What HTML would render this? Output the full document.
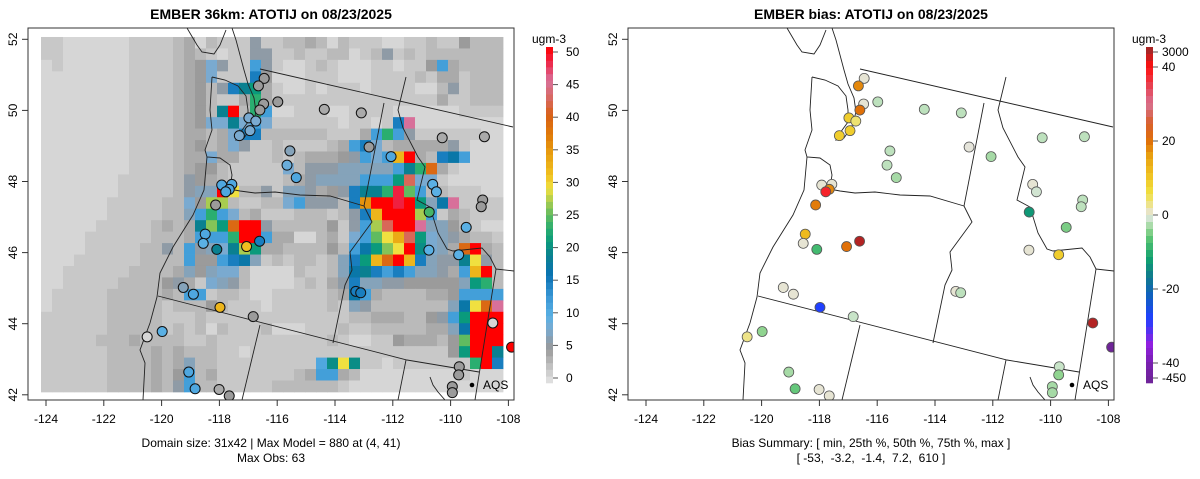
<!DOCTYPE html>
<html><head><meta charset="utf-8"><title>EMBER ATOTIJ</title>
<style>
html,body{margin:0;padding:0;background:#fff;}
svg{display:block;font-family:"Liberation Sans",Arial,sans-serif;}
</style></head>
<body>
<svg id="chart" width="1200" height="479" viewBox="0 0 1200 479" xmlns="http://www.w3.org/2000/svg">
<defs>
<clipPath id="clipL"><rect x="28" y="28" width="486" height="372"/></clipPath>
<clipPath id="clipR"><rect x="628" y="28" width="486" height="372"/></clipPath>
</defs>
<text x="271" y="19" text-anchor="middle" font-size="14" font-weight="bold">EMBER 36km: ATOTIJ on 08/23/2025</text>
<text x="871" y="19" text-anchor="middle" font-size="14" font-weight="bold">EMBER bias: ATOTIJ on 08/23/2025</text>
<g id="left"></g>
<g id="right"></g>
<text x="271" y="447" text-anchor="middle" font-size="12">Domain size: 31x42 | Max Model = 880 at (4, 41)</text>
<text x="271" y="462" text-anchor="middle" font-size="12">Max Obs: 63</text>
<text x="871" y="447" text-anchor="middle" font-size="12">Bias Summary: [ min, 25th %, 50th %, 75th %, max ]</text>
<text x="871" y="462" text-anchor="middle" font-size="12" xml:space="preserve">[ -53,  -3.2,  -1.4,  7.2,  610 ]</text>
</svg>
<script>
const NS = "http://www.w3.org/2000/svg";
// ---- data ----
const xTicks = [-124,-122,-120,-118,-116,-114,-112,-110,-108];
const yTicks = [42,44,46,48,50,52];
const obsTicks = [0,5,10,15,20,25,30,35,40,45,50];
const biasTicks = [3000,40,20,0,-20,-40,-450];
const gridLon0 = -124.173;
const gridLat0 = 52.065;
const gridAlphabet = "0123456789abcdefghijklmnopqrstuvwxyzABCDEFGHIJKLMNO";
const gridRows = [
"221111112222341322262233431322211223225333",
"221111112222343212266223223312362323333333",
"1211111122223458622c6211232111221225c43333",
"1111111122223458222f5111222111222232442333",
"11111111222234536fjl4211212221222211362333",
"1111111122223453224n4222222222222222422333",
"1111111122223453jO3nc112221122221111112222",
"11111111222234588j8c822222212212fJ11111111",
"111111112222344348ff3333332224cnc622222211",
"1111111122223453486223222234cf834444462111",
"1111111122223448442223234445 6c8cwO43fhc111".replace(" ",""),
"11111111222234553222228366677777cjnD421111",
"11111112222236543222223467777ccclG88211111",
"1111111222223677Ot3362776456fjjnMpc3322211",
"111111222223385rr322338c6663fzOOMOl7hJ2222",
"11111122222337cnc834222333236fwOOOrc243222",
"11111222223434jqlDOO633333526crGOOJ7753211",
"11112222223334cccnOOc44113428cptxGl8764332",
"1111222223363c678jrl44333353chlqtOk874DO43",
"1112222223333c55cfh723233237flwDOwf766jt63",
"1122222233334757883111132237hjfcfc7764cwO3",
"1122222333356428763111123246f7766555557ln3",
"1222223333343cc2332112222234hc43333445cccc",
"12222233333233353222122222327633333337htDJ",
"2222223333322232222222222222334443356clOOO",
"22222233333232313222311122232233333447hOOO",
"22222333433332232222222222321122544435pOOO",
"22222233334343332212222222222222222225lOOj",
"2222223333434733222222222bktk2212222222nOf",
"2222223333435c34222222234cc431111111112111",
"2222223333436c3322222333333211111111111111"
];
// sites (axis coords), observed values and bias
const siteLon = [-116.45,-116.65,-116.47,-116.60,-115.98,-116.98,-116.74,-116.94,-117.31,-114.37,-113.09,-112.82,-115.56,-115.66,-115.34,-112.06,-110.29,-108.83,-110.62,-110.49,-110.74,-108.89,-108.94,-109.46,-109.72,-110.75,-117.92,-117.57,-117.66,-117.78,-118.13,-118.49,-118.56,-118.09,-117.06,-116.61,-119.25,-118.90,-117.98,-116.83,-113.28,-113.11,-120.50,-119.98,-108.54,-107.89,-119.06,-118.84,-118.01,-117.66,-109.70,-109.72,-109.94,-109.94];
const siteLat = [50.90,50.69,50.18,50.01,50.24,49.79,49.70,49.43,49.29,50.03,49.93,48.97,48.86,48.46,48.11,48.70,49.23,49.26,47.92,47.71,47.14,47.48,47.29,46.71,45.94,46.07,47.90,47.92,47.78,47.71,47.34,46.52,46.26,46.09,46.17,46.32,45.02,44.83,44.46,44.20,44.91,44.87,43.63,43.78,44.02,43.34,42.64,42.17,42.15,41.97,42.79,42.56,42.23,42.06];
const siteObs = [5,5,5,5,5,8,8,8,8,4,4,5,7,9,11,11,4,4,10,10,24,5,5,10,10,10,11,11,11,11,5,11,10,19,31,15,7,11,32,5,15,15,1,10,1,50,11,11,4,5,5,5,5,5];
const siteBias = [0.5,18,0.5,20,-2,9,4,9,9,-2,-2,0.3,-2,-2,-3,-3,-2,-2,0.5,-1,-13,-2,-2,-5,9,0.5,0.5,0.5,18,38,19,12,0.5,-8,20,44,0.5,0.5,-28,-1.5,0.5,-2,3,-4,44,-45,-3,-6,0.5,0.5,-1.5,-4,-3,-3];
// ---- scales ----
function xS(lon){ return 46 + (lon + 124) * 28.9; }
function yS(lat){ return 39.3 + (52 - lat) * 35.55; }
const obsStops = [[0,"#e6e6e6"],[1,"#d6d6d6"],[2,"#c8c8c8"],[3,"#bababa"],[4,"#aaaaaa"],[5,"#9b9b9b"],[6,"#8f9ba6"],[7,"#85a3ba"],[8,"#7aaad0"],[10,"#5ab0e4"],[13,"#3896d4"],[16,"#0a72b4"],[19,"#0a8090"],[21,"#0a9a7c"],[23,"#2aae70"],[25,"#60bb60"],[27,"#a8cc50"],[29,"#f0e040"],[31,"#f0c020"],[34,"#e8a010"],[37,"#e07a08"],[40,"#d86018"],[42,"#d86858"],[45,"#d8709a"],[48,"#f02040"],[50,"#ff0000"]];
const biasStops = [[-50,"#62287e"],[-40,"#7a20b0"],[-35,"#9020e0"],[-28,"#2040ff"],[-22,"#1060c0"],[-17,"#107890"],[-12,"#10a070"],[-7,"#50c070"],[-4,"#90d490"],[-1.5,"#c8e4c8"],[0,"#e4e4e4"],[2,"#ece4a0"],[6,"#f0e040"],[11,"#f0c020"],[16,"#e8a010"],[20,"#e07008"],[25,"#d86030"],[30,"#d87090"],[35,"#e84050"],[40,"#ff1010"],[45,"#a02828"]];
function hex(c){return [parseInt(c.substr(1,2),16),parseInt(c.substr(3,2),16),parseInt(c.substr(5,2),16)];}
function interp(stops,v){
  if(v<=stops[0][0]) return stops[0][1];
  if(v>=stops[stops.length-1][0]) return stops[stops.length-1][1];
  for(let i=0;i<stops.length-1;i++){
    const a=stops[i],b=stops[i+1];
    if(v>=a[0]&&v<=b[0]){
      const t=(v-a[0])/(b[0]-a[0]);const A=hex(a[1]),B=hex(b[1]);
      return "rgb("+A.map((x,k)=>Math.round(x+(B[k]-x)*t)).join(",")+")";
    }
  }
}
function obsColor(v){return interp(obsStops,v);}
function biasColor(v){return interp(biasStops,v);}
function mk(tag,attrs,parent){const e=document.createElementNS(NS,tag);for(const k in attrs)e.setAttribute(k,attrs[k]);parent.appendChild(e);return e;}
// ---- geography (pixel polylines, left panel frame) ----
const borderLines = [
 [[260,69],[513,127]],
 [[384,103],[364,206],[372,222],[350,252],[352,270],[345,285],[333,343]],
 [[219,187],[240,191],[255,193],[275,192],[300,195],[330,196],[364,206]],
 [[158,296],[407,360],[479,372]],
 [[475,400],[496,269],[514,271]],
 [[406,77],[398,110],[403,128],[418,157],[425,167],[417,200],[430,207],[438,233],[447,249],[453,251],[482,248],[490,257],[496,269]],
 [[260,325],[242,400]],
 [[406,360],[398,400]]
];
const coastLines = [
 [[212,77],[210,110],[212,130],[205,150],[207,157],[220,158],[230,165],[232,175],[230,188]],
 [[207,157],[204,190],[193,215],[173,247],[160,273],[157,297],[150,323],[140,350],[145,363],[143,400]],
 [[187,28],[197,45],[202,52],[214,54],[220,45],[226,30]],
 [[212,77],[225,80],[238,86],[246,96],[248,110],[248,122],[240,133],[236,140],[244,138],[252,126],[256,112],[254,98],[248,84],[244,70],[240,55],[236,40],[232,28]],
 [[430,377],[433,385],[438,392],[445,400]]
];
function drawPanel(g, dx, isBias){
  const clip = isBias ? "url(#clipR)" : "url(#clipL)";
  if(!isBias){
    const gg = mk("g",{"clip-path":clip},g);
    
    
    const cw = 11/28.9, ch = 11.45/35.55;
    gridRows.forEach((row,r)=>{
      for(let c=0;c<row.length;c++){
        const v = gridAlphabet.indexOf(row[c]);
        const x0 = xS(gridLon0 + c*cw), x1 = xS(gridLon0 + (c+1)*cw);
        const y0 = yS(gridLat0 - r*ch), y1 = yS(gridLat0 - (r+1)*ch);
        const rc = mk("rect",{x:x0.toFixed(2),y:y0.toFixed(2),width:(x1-x0+0.4).toFixed(2),height:(y1-y0+0.4).toFixed(2),fill:obsColor(v)},gg);
        
        
      }
    });
  }
  const outer = mk("g",{"clip-path":clip},g);
  
  
  const lg = mk("g",{transform:"translate("+dx+",0)",fill:"none",stroke:"#222","stroke-width":"0.9"},outer);
  
  
  borderLines.concat(coastLines).forEach(pl=>{
    const p = mk("polyline",{points:pl.map(q=>q.join(",")).join(" ")},lg);
    
    
  });
  const pg = mk("g",{"clip-path":clip},g);
  
  
  siteLon.forEach((lon,i)=>{
    const col = isBias ? biasColor(siteBias[i]) : obsColor(siteObs[i]);
    const c = mk("circle",{cx:(xS(lon)+dx).toFixed(2),cy:yS(siteLat[i]).toFixed(2),r:5,fill:col,stroke:isBias?"#555":"#111","stroke-width":isBias?0.8:1},pg);
    
    
  });
  const ld = mk("circle",{cx:472+dx,cy:385,r:2.3,fill:"#000"},g);
  
  
  const lt = mk("text",{x:483+dx,y:389,"font-size":12},g);
  lt.textContent="AQS";
  
  
  const fr = mk("rect",{x:28+dx,y:28,width:486,height:372,fill:"none",stroke:"#333","stroke-width":1},g);
  
  
  xTicks.forEach(t=>{
    const x = xS(t)+dx;
    const tl = mk("line",{x1:x,y1:400,x2:x,y2:406,stroke:"#333"},g);
    
    
    const tx = mk("text",{x:x,y:423,"text-anchor":"middle","font-size":12},g);
    tx.textContent = t;
    
    
  });
  yTicks.forEach(t=>{
    const y = yS(t);
    const tl = mk("line",{x1:22+dx,y1:y,x2:28+dx,y2:y,stroke:"#333"},g);
    
    
    const tx = mk("text",{x:0,y:0,"text-anchor":"middle","font-size":12,transform:"translate("+(17+dx)+","+y+") rotate(-90)"},g);
    tx.textContent = t;
    
    
  });
  const cb = mk("g",{},g);
  
  
  const bx = 546+dx;
  if(!isBias){
    const n=50, top=47, bot=383, h=(bot-top)/n;
    for(let k=0;k<n;k++){
      const r = mk("rect",{x:bx,y:(bot-(k+1)*h).toFixed(2),width:7,height:(h+0.3).toFixed(2),fill:obsColor(k+0.5)},cb);
      
      
    }
    obsTicks.forEach(t=>{
      const y = 378 - t*6.52;
      const l = mk("line",{x1:bx+7,y1:y,x2:bx+12,y2:y,stroke:"#555"},cb);
      
      
      const tx = mk("text",{x:bx+20,y:y+4,"font-size":12},cb);
      tx.textContent=t;
      
      
    });
  } else {
    for(let y=47;y<383;y+=7){
      const v = (215-(y+3.5))/3.7;
      const r = mk("rect",{x:bx,y:y,width:7,height:7.3,fill:biasColor(v)},cb);
      
      
    }
    biasTicks.forEach(t=>{
      let y = 215 - t*3.7;
      if(t>45) y=52; if(t<-45) y=378;
      const l = mk("line",{x1:bx+7,y1:y,x2:bx+12,y2:y,stroke:"#555"},cb);
      
      
      const tx = mk("text",{x:bx+16,y:y+4,"font-size":12},cb);
      tx.textContent=t;
      
      
    });
  }
  const ut = mk("text",{x:bx+3,y:43,"text-anchor":"middle","font-size":12},cb);
  ut.textContent="ugm-3";
  
  
}
drawPanel(document.getElementById("left"),0,false);
drawPanel(document.getElementById("right"),600,true);
</script>
</body></html>
